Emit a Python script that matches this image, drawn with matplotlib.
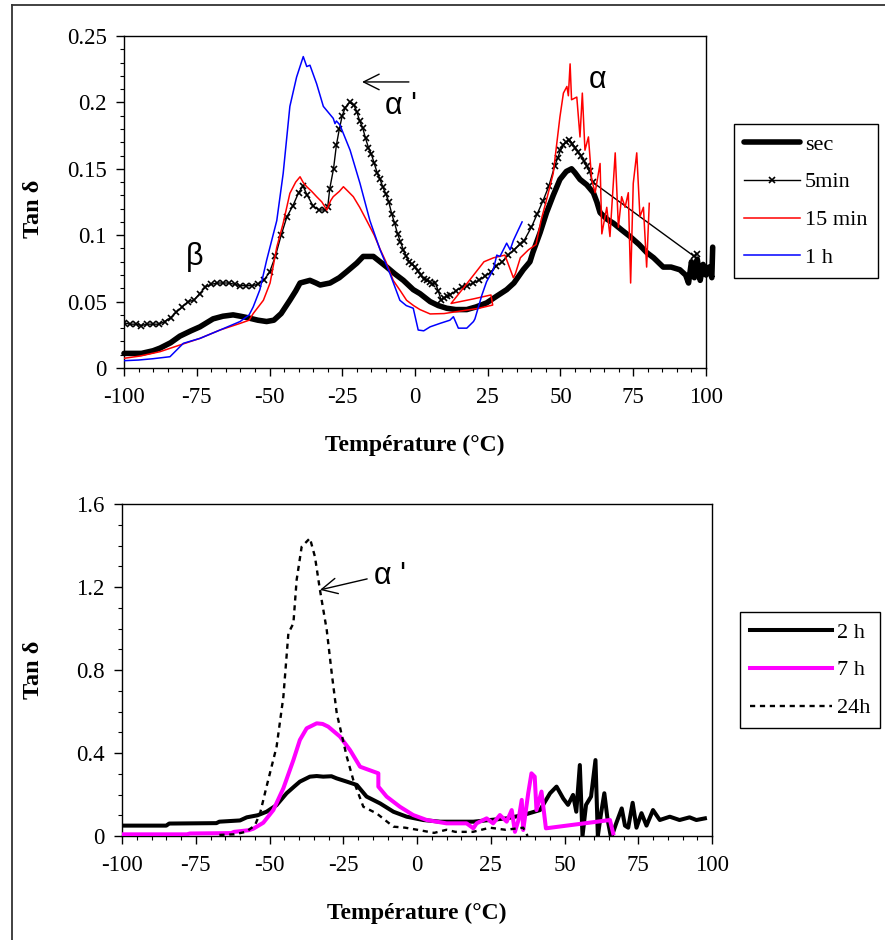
import matplotlib
matplotlib.use('Agg')
import matplotlib.pyplot as plt
from matplotlib.lines import Line2D
from matplotlib.ticker import MultipleLocator, FixedLocator, FixedFormatter

# ---------------- data (top panel) ----------------
sec_T = [-100, -94, -90, -87.6, -84, -80.8, -77, -73.9, -69.4, -66, -62.5, -60, -57.8, -54, -51, -48.5,
         -46, -43, -41, -39.5, -36.1, -34, -32.6, -29.2, -26, -23.5, -20, -17.8, -14.3, -12, -9.7, -7,
         -4, -0.6, 1.7, 5.2, 8, 10.9, 14, 17.8, 21, 24.6, 28, 31.5, 34, 37.2, 39.5, 40.5, 43, 45.2,
         47.5, 49.8, 52, 53.8, 55, 56.7, 59, 61.3, 62.5, 63.6, 66, 68.2, 71, 73.9, 77, 79.6, 82, 85.3,
         88, 91, 93, 94, 95, 96, 97, 98, 99, 100, 101, 102, 102.3]
sec_v = [0.011, 0.011, 0.013, 0.015, 0.019, 0.024, 0.028, 0.031, 0.037, 0.039, 0.040, 0.039, 0.038, 0.036,
         0.035, 0.036, 0.041, 0.051, 0.058, 0.064, 0.066, 0.064, 0.0625, 0.064, 0.068, 0.0725, 0.079,
         0.084, 0.084, 0.080, 0.076, 0.071, 0.066, 0.059, 0.056, 0.050, 0.047, 0.045, 0.044, 0.044,
         0.046, 0.049, 0.054, 0.059, 0.064, 0.074, 0.080, 0.087, 0.102, 0.117, 0.130, 0.142, 0.148,
         0.150, 0.147, 0.142, 0.138, 0.132, 0.125, 0.117, 0.112, 0.109, 0.104, 0.099, 0.093, 0.087,
         0.083, 0.076, 0.076, 0.074, 0.070, 0.064, 0.080, 0.068, 0.082, 0.066, 0.078, 0.070, 0.076,
         0.068, 0.091]

min5_T = [-100, -98, -96, -94, -92, -90, -88, -86, -84, -82, -80, -78, -76, -74, -72, -70, -68, -66, -64,
          -62, -60, -58, -56, -54, -52, -50, -48, -46, -44, -42, -40, -38.5, -37, -35, -33, -31, -30,
          -29.3, -28, -27, -26, -25, -24, -22.5, -21, -20, -19, -18, -17, -16, -15, -14, -13, -12, -11,
          -10, -9, -8, -7, -6, -5, -4, -3, -2, -1, 0, 1, 2, 3, 4, 5, 6, 7, 8, 9, 10, 11, 12, 14, 16, 18,
          20, 22, 24, 26, 28, 30, 32, 34, 36, 37.5, 40, 42, 44, 46, 48, 49, 50, 51, 52, 53, 54, 55, 56,
          57, 58, 59, 60, 61, 96, 97]
min5_v = [0.034, 0.033, 0.033, 0.032, 0.033, 0.033, 0.033, 0.035, 0.038, 0.042, 0.046, 0.050, 0.051,
          0.056, 0.061, 0.063, 0.064, 0.064, 0.064, 0.063, 0.062, 0.062, 0.062, 0.063, 0.066, 0.072,
          0.084, 0.100, 0.114, 0.122, 0.132, 0.137, 0.130, 0.122, 0.119, 0.119, 0.121, 0.135, 0.150,
          0.168, 0.180, 0.190, 0.196, 0.200, 0.198, 0.193, 0.186, 0.181, 0.173, 0.166, 0.161, 0.154,
          0.147, 0.142, 0.136, 0.131, 0.125, 0.116, 0.109, 0.101, 0.095, 0.089, 0.084, 0.080, 0.078,
          0.076, 0.073, 0.070, 0.067, 0.066, 0.065, 0.063, 0.064, 0.058, 0.051, 0.053, 0.054, 0.055,
          0.058, 0.061, 0.062, 0.064, 0.066, 0.069, 0.072, 0.077, 0.080, 0.085, 0.089, 0.093, 0.096,
          0.106, 0.116, 0.126, 0.137, 0.152, 0.158, 0.164, 0.168, 0.170, 0.172, 0.169, 0.166, 0.163,
          0.160, 0.156, 0.152, 0.148, 0.140, 0.084, 0.086]

min15_T = [-100, -94.5, -87.6, -80.8, -73.9, -67, -60.1, -57, -55.6, -52.1, -49.8, -47.5, -45.3, -43,
           -41, -39.5, -38.5, -37.2, -35.5, -33.8, -32, -30.3, -29, -28.1, -26, -24.6, -23, -21.2, -19,
           -16.6, -14, -12, -10, -7.5, -5, -2.9, -0.5, 1.7, 5.2, 10, 16, 22, 26.7, 26.1, 20, 12.4, 18,
           23.7, 27, 30.9, 33.8, 34.5, 36.2, 39, 41.6, 43.3, 45, 47.5, 49.8, 51, 52.2, 52.7, 53.3, 53.8,
           55.6, 56.7, 57.5, 58.4, 59.6, 60.7, 61.9, 63.6, 64.2, 65.9, 67, 68.8, 69.9, 71, 72.2, 73.3,
           74.1, 75, 76.2, 77.3, 78.5, 79.6, 80.5]
min15_v = [0.0073, 0.009, 0.0123, 0.0173, 0.0223, 0.0286, 0.0336, 0.036, 0.041, 0.051, 0.064, 0.091,
           0.109, 0.1315, 0.140, 0.144, 0.140, 0.1365, 0.133, 0.129, 0.125, 0.119, 0.126, 0.129, 0.133,
           0.1365, 0.133, 0.129, 0.121, 0.111, 0.100, 0.0895, 0.080, 0.066, 0.058, 0.051, 0.047, 0.044,
           0.0407, 0.041, 0.043, 0.045, 0.0474, 0.055, 0.052, 0.0486, 0.064, 0.080, 0.083, 0.085, 0.068,
           0.071, 0.083, 0.089, 0.093, 0.111, 0.125, 0.1465, 0.189, 0.207, 0.212, 0.205, 0.229, 0.202,
           0.204, 0.174, 0.207, 0.164, 0.174, 0.142, 0.132, 0.154, 0.101, 0.121, 0.099, 0.162, 0.106,
           0.129, 0.121, 0.132, 0.064, 0.139, 0.162, 0.114, 0.121, 0.076, 0.124]

h1_T = [-100, -95, -90, -84.2, -79.6, -73.9, -67, -60.1, -57, -55.6, -53.3, -51, -47.5, -45.3, -43,
        -40.7, -38.4, -37.2, -36.1, -33.8, -31.5, -28.1, -27.5, -27, -25.8, -22.3, -18.9, -15.5, -12,
        -8.6, -5.2, -3, -0.6, 1.1, 3, 5.2, 8.6, 12, 13.2, 14.9, 17.8, 20.1, 20.6, 23, 24.6, 26.9, 28.1,
        29.2, 31.5, 32.7, 33.8, 35.5, 36.8]
h1_v = [0.0055, 0.006, 0.007, 0.0085, 0.0186, 0.0223, 0.0286, 0.035, 0.040, 0.046, 0.059, 0.081, 0.111,
        0.1465, 0.197, 0.219, 0.2345, 0.227, 0.228, 0.214, 0.197, 0.188, 0.184, 0.186, 0.183, 0.164,
        0.139, 0.111, 0.089, 0.071, 0.051, 0.047, 0.045, 0.0286, 0.028, 0.031, 0.0336, 0.036, 0.0386,
        0.030, 0.030, 0.035, 0.037, 0.055, 0.065, 0.074, 0.085, 0.084, 0.094, 0.089, 0.096, 0.104, 0.110]

# ---------------- data (bottom panel) ----------------
h2_T = [-100, -85, -84, -68, -67, -60, -57.7, -54, -51, -47.6, -44.2, -41.5, -39.7, -36.3, -34, -31.8,
        -29, -27.3, -23.8, -20.4, -17.1, -12.5, -8, -3.5, 2.1, 7.8, 13, 19.1, 24.7, 30.4, 36, 41.7, 45.1,
        47.3, 49.6, 51.2, 52.9, 54, 55.2, 56.1, 57.3, 59, 60.5, 61.3, 62.4, 63.5, 64.6, 65.8, 67.5, 69.4,
        70.5, 71.6, 73.1, 74.4, 76.1, 77.8, 80, 82.3, 85.7, 89, 92.4, 94.7, 97.6]
h2_v = [0.050, 0.050, 0.060, 0.062, 0.069, 0.075, 0.090, 0.100, 0.117, 0.149, 0.206, 0.240, 0.262, 0.286,
        0.289, 0.286, 0.288, 0.278, 0.262, 0.246, 0.190, 0.157, 0.117, 0.093, 0.077, 0.069, 0.069, 0.069,
        0.077, 0.085, 0.101, 0.125, 0.206, 0.238, 0.180, 0.150, 0.198, 0.117, 0.342, 0.000, 0.150, 0.190,
        0.366, 0.000, 0.110, 0.206, 0.080, -0.010, 0.060, 0.133, 0.050, 0.040, 0.160, 0.040, 0.110,
        0.050, 0.125, 0.077, 0.093, 0.077, 0.090, 0.077, 0.085]

h7_T = [-100, -78, -77, -63, -62, -57, -55.5, -52.1, -48.7, -45.3, -41.9, -39.7, -37.4, -34, -32, -30.1,
        -26.1, -22.7, -19.3, -17, -13.1, -13.1, -10.3, -5.8, -1.3, 3.3, 10, 14.6, 16.8, 19.1, 20.2, 23.6,
        25.8, 28.1, 30.4, 32.1, 33.2, 34.4, 35.5, 36, 37.7, 38.8, 39.9, 40.5, 42.2, 43.7, 65.4, 66.5]
h7_v = [0.008, 0.008, 0.012, 0.014, 0.020, 0.028, 0.035, 0.064, 0.125, 0.230, 0.366, 0.463, 0.519, 0.543,
        0.540, 0.527, 0.479, 0.414, 0.334, 0.322, 0.302, 0.238, 0.190, 0.141, 0.101, 0.077, 0.061, 0.061,
        0.061, 0.037, 0.061, 0.085, 0.061, 0.101, 0.069, 0.125, 0.020, 0.077, 0.174, 0.029, 0.206, 0.302,
        0.286, 0.125, 0.214, 0.037, 0.077, 0.013]

h24_T = [-67, -62, -58, -55, -53.2, -51, -47.6, -45.3, -43.6, -41.9, -40.8, -39.1, -36.3, -34.6, -32.9,
         -30.6, -28.9, -27.2, -23.8, -21.6, -18.2, -13.7, -8, -4, 0.1, 5.8, 10, 13, 19, 24.7, 30, 36, 37.5]
h24_v = [0.005, 0.008, 0.020, 0.050, 0.109, 0.238, 0.430, 0.671, 0.977, 1.025, 1.234, 1.394, 1.435, 1.346,
         1.186, 0.993, 0.784, 0.591, 0.382, 0.270, 0.141, 0.109, 0.045, 0.040, 0.030, 0.015, 0.030, 0.020,
         0.020, 0.040, 0.030, 0.040, 0.000]

# ---------------- labels ----------------
top_labels = ['sec', '5min', '15 min', '1 h']
bot_labels = ['2 h', '7 h', '24h']
x_ticks = [-100, -75, -50, -25, 0, 25, 50, 75, 100]
x_ticklabels = ['-100', '-75', '-50', '-25', '0', '25', '50', '75', '100']
top_yticks = [0, 0.05, 0.1, 0.15, 0.2, 0.25]
top_yticklabels = ['0', '0.05', '0.1', '0.15', '0.2', '0.25']
bot_yticks = [0, 0.4, 0.8, 1.2, 1.6]
bot_yticklabels = ['0', '0.4', '0.8', '1.2', '1.6']
xlabel = 'Température (°C)'
ylabel = 'Tan δ'

# ---------------- figure ----------------
plt.rcParams['font.family'] = ['Liberation Serif', 'DejaVu Serif']
plt.rcParams['font.size'] = 16

W, H = 885, 940
fig = plt.figure(figsize=(W / 100, H / 100), dpi=100)
fig.patch.set_facecolor('white')

ax1 = fig.add_axes([124 / W, 1 - 368 / H, (706 - 124) / W, (368 - 36) / H])
ax2 = fig.add_axes([122 / W, 1 - 836 / H, (712 - 122) / W, (836 - 504) / H])

l_sec, = ax1.plot(sec_T, sec_v, color='black', lw=4.0, solid_capstyle='round',
                  solid_joinstyle='round', clip_on=False, zorder=2)
l_5, = ax1.plot(min5_T, min5_v, color='black', lw=1.0, marker='x', ms=4, mew=1.2, zorder=3)
l_15, = ax1.plot(min15_T, min15_v, color='#ff0000', lw=1.1, zorder=4)
l_1h, = ax1.plot(h1_T, h1_v, color='#0000ff', lw=1.1, zorder=5)

l_2, = ax2.plot(h2_T, h2_v, color='black', lw=2.9, zorder=2)
l_7, = ax2.plot(h7_T, h7_v, color='#ff00ff', lw=2.9, zorder=3)
l_24, = ax2.plot(h24_T, h24_v, color='black', lw=1.7, linestyle=(0, (2.2, 2.0)), zorder=4)

for ax, yt, ytl, ymax, yminor in [(ax1, top_yticks, top_yticklabels, 0.25, 0.01),
                                  (ax2, bot_yticks, bot_yticklabels, 1.6, 0.1)]:
    ax.set_xlim(-100, 100)
    ax.set_ylim(0, ymax)
    ax.xaxis.set_major_locator(FixedLocator(x_ticks))
    ax.xaxis.set_major_formatter(FixedFormatter(x_ticklabels))
    ax.xaxis.set_minor_locator(MultipleLocator(5))
    ax.yaxis.set_major_locator(FixedLocator(yt))
    ax.yaxis.set_major_formatter(FixedFormatter(ytl))
    ax.yaxis.set_minor_locator(MultipleLocator(yminor))
    ax.tick_params(which='major', direction='out', length=5.5, width=1, colors='black', labelsize=16.5)
    ax.tick_params(axis='x', which='major', pad=8)
    ax.tick_params(axis='y', which='major', pad=7)
    ax.tick_params(which='minor', direction='out', length=3, width=0.8)
    for s in ax.spines.values():
        s.set_linewidth(1.0)
        s.set_color('black')
    ax.set_xlabel(xlabel, fontsize=17, fontweight='bold')
    ax.set_ylabel(ylabel, fontsize=17.5, fontweight='bold')
    ax.xaxis.set_label_coords(0.5, -0.2)

ax1.yaxis.set_label_coords(-0.137, 0.48)
ax2.yaxis.set_label_coords(-0.132, 0.5)

# annotations
greek = ['Liberation Sans', 'DejaVu Sans']
ax1.text(-75.6, 0.0835, 'β', family=greek, fontsize=22, ha='center', va='center')
ax1.text(62.9, 0.217, 'α', family=greek, fontsize=22, ha='center', va='center')
ax1.text(-10.2, 0.197, "α '", family=greek, fontsize=22, ha='left', va='center')
ax1.annotate('', xy=(-18.2, 0.2154), xytext=(-2.1, 0.2154),
             arrowprops=dict(arrowstyle='->,head_length=0.7,head_width=0.35', lw=1.0, color='black',
                             shrinkA=0, shrinkB=0))
ax2.text(-14.6, 1.253, "α '", family=greek, fontsize=22, ha='left', va='center')
ax2.annotate('', xy=(-32.9, 1.186), xytext=(-16.9, 1.239),
             arrowprops=dict(arrowstyle='->,head_length=0.7,head_width=0.35', lw=1.0, color='black',
                             shrinkA=0, shrinkB=0))

# legends
leg1 = ax1.legend([l_sec, l_5, l_15, l_1h], top_labels, loc='upper left',
                  bbox_to_anchor=(734 / W, 1 - 124 / H), bbox_transform=fig.transFigure,
                  frameon=True, fancybox=False, edgecolor='black', framealpha=1, borderaxespad=0,
                  handlelength=2.5, handletextpad=0.25, labelspacing=0.78, borderpad=0.45,
                  numpoints=1, fontsize=16)
leg1.get_frame().set_linewidth(1.0)
leg2 = ax2.legend([l_2, l_7, l_24], bot_labels, loc='upper left',
                  bbox_to_anchor=(740 / W, 1 - 612 / H), bbox_transform=fig.transFigure,
                  frameon=True, fancybox=False, edgecolor='black', framealpha=1, borderaxespad=0,
                  handlelength=3.7, handletextpad=0.2, labelspacing=0.78, borderpad=0.45,
                  numpoints=1, fontsize=16)
leg2.get_frame().set_linewidth(1.0)

# outer frame (partially visible)
fig.add_artist(Line2D([12 / W, 12 / W], [0, 1 - 5 / H], transform=fig.transFigure, color='#333333', lw=1.3))
fig.add_artist(Line2D([12 / W, 1], [1 - 5 / H, 1 - 5 / H], transform=fig.transFigure, color='#333333', lw=1.3))

fig.savefig('out.png', dpi=100, facecolor='white')
